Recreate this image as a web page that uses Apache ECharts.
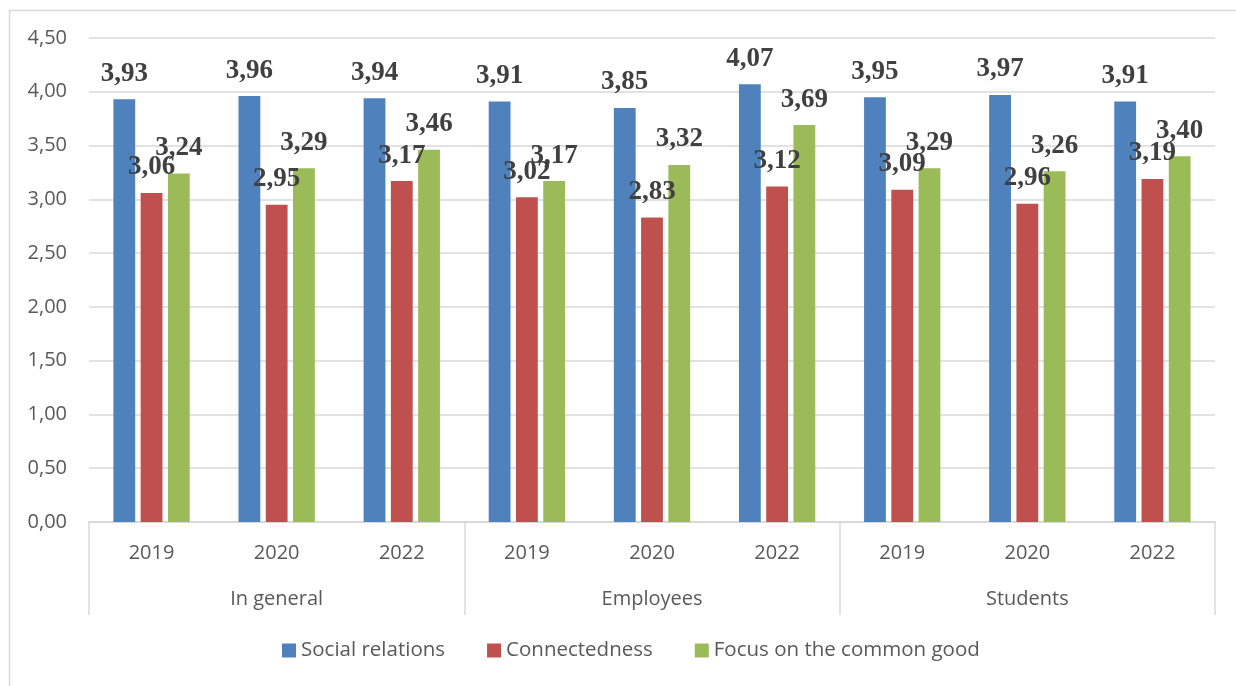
<!DOCTYPE html>
<html>
<head>
<meta charset="utf-8">
<script src="https://cdn.jsdelivr.net/npm/echarts@6/dist/echarts.min.js"></script>
<style>
  html, body { margin: 0; padding: 0; background: #fff; }
  #chart { width: 1236px; height: 686px; }
</style>
</head>
<body>
<div id="chart"></div>
<script>
const years = ['2019', '2020', '2022', '2019', '2020', '2022', '2019', '2020', '2022'];
const groups = ['In general', 'Employees', 'Students'];
const yTicks = [0, 0.5, 1, 1.5, 2, 2.5, 3, 3.5, 4, 4.5];

const socialRelations = [3.93, 3.96, 3.94, 3.91, 3.85, 4.07, 3.95, 3.97, 3.91];
const connectedness = [3.06, 2.95, 3.17, 3.02, 2.83, 3.12, 3.09, 2.96, 3.19];
const commonGood = [3.24, 3.29, 3.46, 3.17, 3.32, 3.69, 3.29, 3.26, 3.40];

const comma = v => v.toFixed(2).replace('.', ',');
const gridColor = '#d9d9d9';
const textColor = '#595959';
const sans = '"Open Sans", sans-serif';

const chart = echarts.init(document.getElementById('chart'));

function barSeries(name, data, color) {
  return {
    name,
    type: 'bar',
    data,
    barGap: '25%',
    barCategoryGap: '39%',
    itemStyle: { color },
    label: {
      show: true,
      position: 'top',
      distance: 12,
      formatter: p => comma(p.value),
      fontFamily: '"Liberation Serif", serif',
      fontWeight: 'bold',
      fontSize: 27,
      color: '#404040'
    }
  };
}

chart.setOption({
  animation: false,
  graphic: [{
    type: 'rect',
    left: 7, top: 8,
    shape: { width: 1240, height: 690 },
    style: { fill: 'none', stroke: gridColor, lineWidth: 1.5 },
    silent: true
  }],
  grid: { left: 89, right: 21, top: 38, bottom: 164 },
  legend: {
    bottom: 20,
    left: 277,
    itemWidth: 14,
    itemHeight: 14,
    itemGap: 42,
    icon: 'rect',
    textStyle: { fontFamily: sans, fontSize: 20.5, color: textColor },
    data: ['Social relations', 'Connectedness', 'Focus on the common good']
  },
  xAxis: [{
    type: 'category',
    data: years,
    position: 'bottom',
    axisLine: { show: true, lineStyle: { color: gridColor, width: 1.5 } },
    axisTick: { show: false },
    axisLabel: { margin: 21, fontFamily: sans, fontSize: 20, color: textColor }
  }, {
    type: 'category',
    data: groups,
    position: 'bottom',
    axisLine: { show: true, lineStyle: { color: gridColor, width: 1.5 } },
    axisTick: { show: true, length: 93, lineStyle: { color: gridColor, width: 1.5 } },
    axisLabel: { margin: 67, fontFamily: sans, fontSize: 20, color: textColor }
  }],
  yAxis: {
    type: 'value',
    min: yTicks[0],
    max: yTicks[yTicks.length - 1],
    interval: 0.5,
    axisLine: { show: false },
    axisTick: { show: false },
    splitLine: { lineStyle: { color: gridColor, width: 1.5 } },
    axisLabel: {
      margin: 22,
      fontFamily: sans,
      fontSize: 20,
      color: textColor,
      formatter: v => comma(v)
    }
  },
  series: [
    barSeries('Social relations', socialRelations, '#4f81bd'),
    barSeries('Connectedness', connectedness, '#c0504d'),
    barSeries('Focus on the common good', commonGood, '#9bbb59')
  ]
});
</script>
</body>
</html>
